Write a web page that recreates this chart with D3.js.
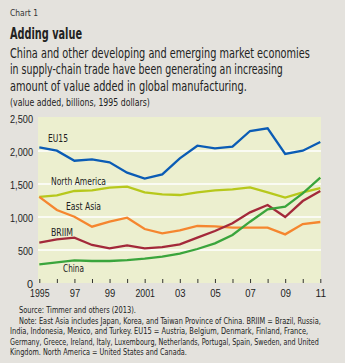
<!DOCTYPE html>
<html><head><meta charset="utf-8">
<script src="https://cdn.jsdelivr.net/npm/d3@7"></script>
<style>
html,body{margin:0;padding:0;background:#e4e2dd;}
svg{display:block;font-family:"Liberation Sans Narrow","DejaVu Sans Condensed","Liberation Sans",sans-serif;font-stretch:condensed;}
</style></head>
<body>
<svg id="c" width="345" height="363"></svg>
<script>
const years = [1995,1996,1997,1998,1999,2000,2001,2002,2003,2004,2005,2006,2007,2008,2009,2010,2011];
const eu15 = [2056,2005,1853,1874,1829,1672,1581,1646,1889,2080,2040,2066,2303,2343,1955,2005,2136];
const northAmerica = [1305,1328,1394,1404,1444,1460,1374,1343,1333,1374,1404,1419,1449,1374,1293,1374,1439];
const eastAsia = [1305,1106,1005,853,929,990,818,753,798,864,859,838,838,838,737,894,924];
const briim = [611,662,687,576,525,571,525,545,586,687,788,904,1071,1182,1000,1242,1394];
const china = [283,313,344,333,333,348,369,399,444,515,601,727,929,1116,1157,1359,1596];
const yTicks = [0,500,1000,1500,2000,2500];
const xTickLabels = ["1995","97","99","2001","03","05","07","09","11"];
const seriesNames = ["EU15","North America","East Asia","BRIIM","China"];
const seriesColors = ["#0b5cb5","#b7c81c","#f5862f","#a3293a","#3aa53c"];
const seriesData = [eu15, northAmerica, eastAsia, briim, china];
// layout: [x, baseline y, target width]
const labelPos = [[48,142,20],[51,185,55],[66,210,35],[51,236,22],[63,272,21]];

const svg = d3.select("#c");
svg.append("rect").attr("width",345).attr("height",363).attr("fill","#e4e2dd");

function fit(sel, w){ sel.attr("textLength", w).attr("lengthAdjust","spacingAndGlyphs"); return sel; }
// horizontally squeezed text via transform (keeps measured box inside target width)
function squeezed(x0, y0, size, str, w, weight){
  const g = svg.append("g");
  const t = g.append("text").attr("x",0).attr("y",0).attr("font-size",size).attr("fill","#222").text(str);
  if (weight) t.attr("font-weight",weight);
  const nat = t.node().getComputedTextLength();
  const f = Math.min(1, w/nat);
  g.attr("transform",`translate(${x0},${y0}) scale(${f},1)`);
  return t;
}

fit(svg.append("text").attr("x",10).attr("y",16).attr("font-size",9.5).attr("fill","#333").text("Chart 1"), 28);
fit(svg.append("text").attr("x",10).attr("y",38.5).attr("font-size",16).attr("font-weight","bold").attr("fill","#222").text("Adding value"), 72);
const sub = ["China and other developing and emerging market economies","in supply-chain trade have been generating an increasing","amount of value added in global manufacturing."];
const subW = [300,273,237];
sub.forEach((s,i)=>squeezed(10, 58+i*16.4, 13.5, s, subW[i]));
squeezed(10, 105.5, 10, "(value added, billions, 1995 dollars)", 140);

const x = d3.scaleLinear().domain([1995,2011]).range([39.3,320.3]);
const y = d3.scaleLinear().domain([0,2500]).range([283,118]);

svg.append("rect").attr("x",38).attr("y",117).attr("width",283).attr("height",166).attr("fill","#ecefcf");

svg.selectAll("line.grid").data(yTicks.filter(d=>d>0&&d<2500)).join("line").attr("class","grid")
  .attr("x1",38).attr("x2",321).attr("y1",d=>y(d)).attr("y2",d=>y(d))
  .attr("stroke","#fff").attr("stroke-width",1.5);

const yAxis = d3.axisLeft(y).tickValues(yTicks).tickSize(0).tickPadding(5).tickFormat(d3.format(","));
const ya = svg.append("g").attr("transform","translate(38,0)").call(yAxis);
ya.select(".domain").remove();
ya.selectAll("text").attr("font-size",11.5).attr("fill","#222").attr("font-family","inherit").attr("dy","0.35em");
ya.selectAll("text").each(function(){ const w=this.getComputedTextLength(); const t=this.textContent.length>3?23:(this.textContent.length===3?15:6); d3.select(this).attr("textLength", Math.min(w,t)).attr("lengthAdjust","spacingAndGlyphs"); });

const xAxis = d3.axisBottom(x).tickValues(years).tickSize(-4).tickPadding(6)
  .tickFormat(d=>{const i=(d-1995); return i%2===0 ? xTickLabels[i/2] : "";});
const xa = svg.append("g").attr("transform","translate(0,283)").call(xAxis);
xa.select(".domain").remove();
xa.selectAll("line").attr("stroke","#333").attr("stroke-width",1);
xa.selectAll("text").attr("font-size",11.5).attr("fill","#222").attr("font-family","inherit");
xa.selectAll("text").filter(function(){return this.textContent!=="";}).each(function(){ const w=this.getComputedTextLength(); const t=this.textContent.length>2?19.5:10.5; d3.select(this).attr("textLength", Math.min(w,t)).attr("lengthAdjust","spacingAndGlyphs"); });

const line = d3.line().x((d,i)=>x(years[i])).y(d=>y(d));
seriesData.forEach((s,k)=>{
  svg.append("path").datum(s).attr("d",line).attr("fill","none")
    .attr("stroke",seriesColors[k]).attr("stroke-width",2.3).attr("stroke-linejoin","miter");
});
seriesNames.forEach((n,k)=>{
  fit(svg.append("text").attr("x",labelPos[k][0]).attr("y",labelPos[k][1]).attr("font-size",10.5).attr("fill","#222").text(n), labelPos[k][2]);
});

const notes = [
 [19,"Source: Timmer and others (2013).",117],
 [19,"Note: East Asia includes Japan, Korea, and Taiwan Province of China. BRIIM = Brazil, Russia,",302],
 [10,"India, Indonesia, Mexico, and Turkey. EU15 = Austria, Belgium, Denmark, Finland, France,",299],
 [10,"Germany, Greece, Ireland, Italy, Luxembourg, Netherlands, Portugal, Spain, Sweden, and United",309],
 [10,"Kingdom. North America = United States and Canada.",177]
];
notes.forEach((n,i)=>squeezed(n[0], 313+i*10.5, 8.8, n[1], n[2]));
</script>
</body></html>
